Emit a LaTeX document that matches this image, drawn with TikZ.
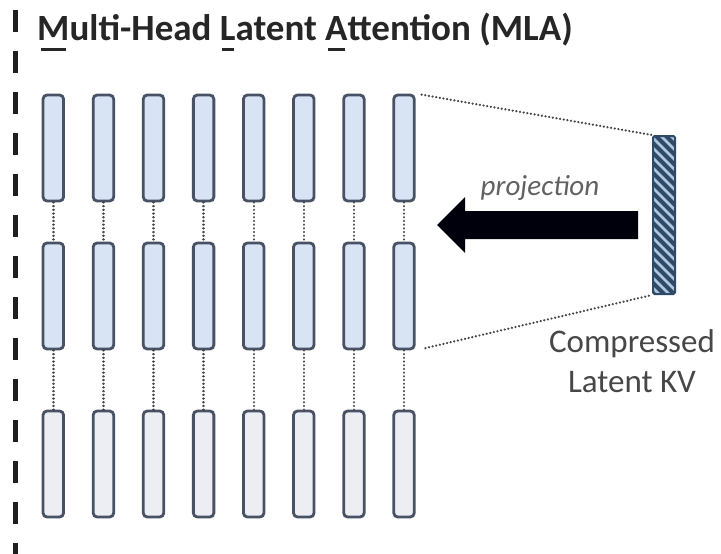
\documentclass[tikz,border=0pt]{standalone}
\usepackage{fontspec}
\setmainfont{Carlito}
\usetikzlibrary{calc}

\definecolor{barblue}{HTML}{D8E3F4}
\definecolor{barpale}{HTML}{ECEEF4}
\definecolor{barline}{HTML}{495264}
\definecolor{kvdark}{HTML}{2F4A69}
\definecolor{kvlight}{HTML}{AFC6DD}
\definecolor{dotgray}{HTML}{454545}
\definecolor{labelgray}{HTML}{474747}

% underline a single letter with a short heavy rule
\newcommand\ulletter[1]{%
  \setbox0\hbox{#1}%
  \rlap{\kern0.12\wd0\rule[-11pt]{0.76\wd0}{2.8pt}}\box0}

\begin{document}
\begin{tikzpicture}[x=1pt,y=-1pt,
  bar/.style={draw=barline, line width=2.8pt, rounded corners=4pt,
    minimum width=20.5pt, minimum height=106pt, inner sep=0pt},
  dotlink/.style={draw=dotgray, line width=2.4pt, line cap=round,
    dash pattern=on 0.1pt off 3.6pt},
  kvbox/.style={draw=kvdark, line width=2pt, fill=kvdark, rounded corners=1.5pt,
    minimum width=22pt, minimum height=158pt, inner sep=0pt}
]
\useasboundingbox (0,0) rectangle (721,554);

% dashed separator on the left
\draw[line width=5pt, color=black!88, dash pattern=on 22pt off 19pt]
  (15,10) -- (15,560);

% title
\node[anchor=base west, inner sep=0pt, text=black!85,
      font=\fontsize{37}{44}\selectfont\bfseries] (title) at (37,40)
  {\ulletter{M}ulti-Head \ulletter{L}atent \ulletter{A}ttention (MLA)};

% three rows of eight heads
\foreach \i in {0,...,7} {
  \node[bar, fill=barblue] (b\i-1) at ({53.3+50.1*\i},148) {};
  \node[bar, fill=barblue] (b\i-2) at ({53.3+50.1*\i},296) {};
  \node[bar, fill=barpale] (b\i-3) at ({53.3+50.1*\i},464) {};
  \draw[dotlink] (b\i-1.south) -- (b\i-2.north);
  \draw[dotlink] (b\i-2.south) -- (b\i-3.north);
}

% compressed latent KV block with diagonal hatching
\node[kvbox, path picture={
    \foreach \k in {-4,...,20}
      \draw[kvlight, line width=2.6pt]
        ($(path picture bounding box.north west)+(-2pt,{-10*\k*1pt})$)
        -- ++(34pt,-34pt);
  }] (kv) at (664,215) {};

% projection lines from the block to the heads
\draw[dotlink, shorten <=6pt] (b7-1.north east) -- (kv.north west);
\draw[dotlink, shorten <=10pt] (b7-2.south east) -- (kv.south west);

% projection arrow
\coordinate (atail) at (638,225);
\coordinate (atip) at (437,225);
\fill[black!95!blue]
  ($(atail)+(0,-14)$) -- (465,211) -- (465,197) -- (atip)
  -- (465,253) -- (465,239) -- ($(atail)+(0,14)$) -- cycle;

\node[font=\fontsize{29}{34}\selectfont\itshape, text=black!62,
      anchor=base] (proj) at (540,195) {projection};

\node[font=\fontsize{33}{40}\selectfont, text=labelgray, align=center,
      anchor=base] (kvlabel) at (632,392) {Compressed\\Latent KV};
\end{tikzpicture}
\end{document}
